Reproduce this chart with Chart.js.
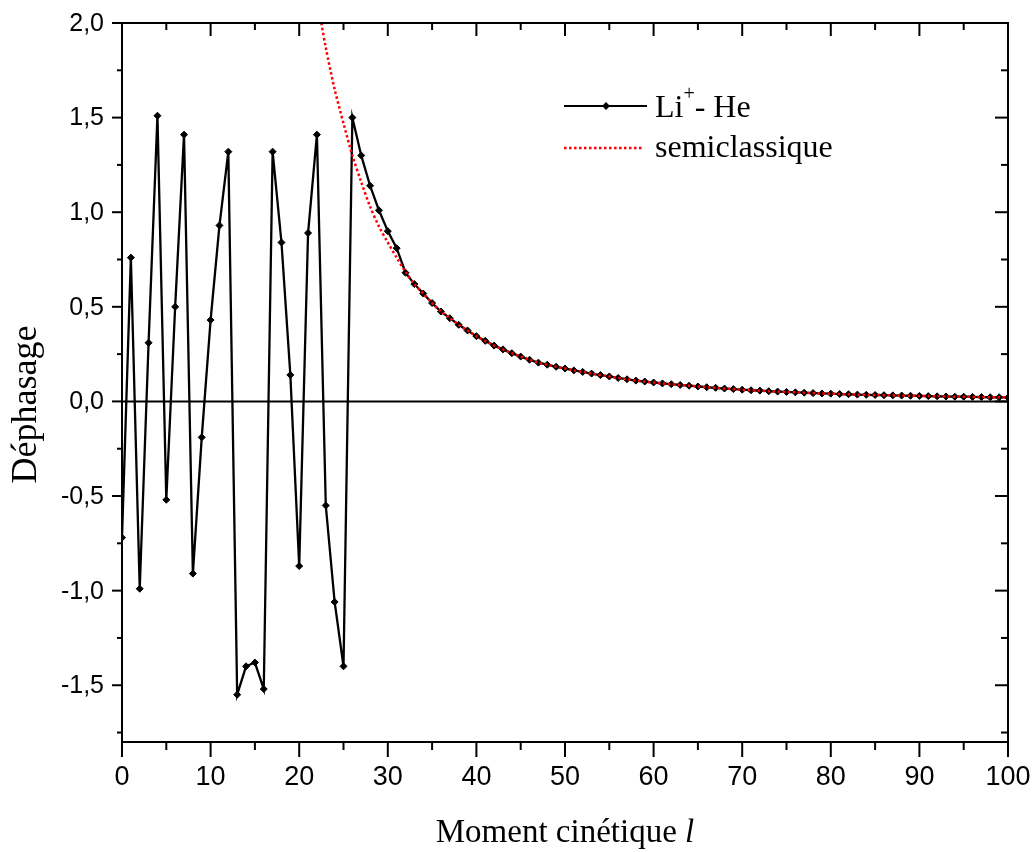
<!DOCTYPE html>
<html>
<head>
<meta charset="utf-8">
<script src="https://cdn.jsdelivr.net/npm/chart.js@4.4.1/dist/chart.umd.min.js"></script>
<style>
  html, body { margin: 0; background: #fff; }
  #wrap { width: 1032px; height: 852px; }
</style>
</head>
<body>
<div id="wrap"><canvas id="phaseChart"></canvas></div>
<script>
// Li+ - He phase shifts, l = 0..100
const phaseLiHe = [
  -0.72, 0.76, -0.99, 0.31, 1.51, -0.52, 0.50, 1.41, -0.91, -0.19,
  0.43, 0.93, 1.32, -1.55, -1.40, -1.38, -1.52, 1.32, 0.84, 0.14,
  -0.87, 0.89, 1.41, -0.55, -1.06, -1.40, 1.50, 1.30, 1.14, 1.01,
  0.90, 0.81, 0.68, 0.62, 0.57, 0.52, 0.475, 0.44, 0.405, 0.375,
  0.345, 0.32, 0.295, 0.275, 0.255, 0.237, 0.22, 0.205, 0.194, 0.183,
  0.174, 0.164, 0.156, 0.147, 0.139, 0.132, 0.124, 0.117, 0.110, 0.105,
  0.100, 0.095, 0.091, 0.087, 0.083, 0.079, 0.075, 0.072, 0.068, 0.065,
  0.062, 0.059, 0.057, 0.054, 0.052, 0.050, 0.048, 0.046, 0.044, 0.042,
  0.041, 0.039, 0.038, 0.036, 0.035, 0.034, 0.033, 0.032, 0.031, 0.030,
  0.029, 0.028, 0.027, 0.026, 0.025, 0.025, 0.024, 0.023, 0.022, 0.022,
  0.021
];
const momentL = phaseLiHe.map((_, i) => i);

// semiclassical curve (red dotted), starts where it leaves the top of the frame
const semiL = [22.5, 23, 24, 25, 26, 27, 28, 29, 30, 31, 32].concat(momentL.slice(33));
const semiVals = [
  2.00, 1.87, 1.65, 1.47, 1.30, 1.16, 1.03, 0.925, 0.84, 0.76, 0.685,
  0.62, 0.57, 0.52, 0.475, 0.44, 0.405, 0.375,
  0.345, 0.32, 0.295, 0.275, 0.255, 0.237, 0.22, 0.205, 0.194, 0.183,
  0.174, 0.164, 0.156, 0.147, 0.139, 0.132, 0.124, 0.117, 0.110, 0.105,
  0.100, 0.095, 0.091, 0.087, 0.083, 0.079, 0.075, 0.072, 0.068, 0.065,
  0.062, 0.059, 0.057, 0.054, 0.052, 0.050, 0.048, 0.046, 0.044, 0.042,
  0.041, 0.039, 0.038, 0.036, 0.035, 0.034, 0.033, 0.032, 0.031, 0.030,
  0.029, 0.028, 0.027, 0.026, 0.025, 0.025, 0.024, 0.023, 0.022, 0.022,
  0.021
];

// axis ticks
const xMajorTicks = [0, 10, 20, 30, 40, 50, 60, 70, 80, 90, 100];
const xMinorTicks = [5, 15, 25, 35, 45, 55, 65, 75, 85, 95];
const yMajorTicks = [-1.5, -1.0, -0.5, 0.0, 0.5, 1.0, 1.5, 2.0];
const yMinorTicks = [-1.75, -1.25, -0.75, -0.25, 0.25, 0.75, 1.25, 1.75];

const serif = '"Liberation Serif", "Times New Roman", serif';
const sans = '"Liberation Sans", Arial, sans-serif';

const frameDeco = {
  id: 'frameDeco',
  beforeDatasetsDraw(chart) {
    const { ctx, chartArea: a, scales: { y } } = chart;
    const y0 = y.getPixelForValue(0);
    ctx.save();
    ctx.strokeStyle = '#000'; ctx.lineWidth = 2;
    ctx.beginPath(); ctx.moveTo(a.left, y0); ctx.lineTo(a.right, y0); ctx.stroke();
    ctx.restore();
  },
  afterDraw(chart) {
    const { ctx, chartArea: a, scales: { x, y } } = chart;
    ctx.save();
    ctx.strokeStyle = '#000';
    ctx.lineWidth = 2;
    ctx.strokeRect(a.left, a.top, a.right - a.left, a.bottom - a.top);

    // ticks: left/bottom outward, top/right inward
    const tick = (x1, y1, x2, y2) => { ctx.beginPath(); ctx.moveTo(x1, y1); ctx.lineTo(x2, y2); ctx.stroke(); };
    yMajorTicks.forEach(v => { const p = y.getPixelForValue(v); tick(a.left - 10, p, a.left, p); tick(a.right - 13, p, a.right, p); });
    yMinorTicks.forEach(v => { const p = y.getPixelForValue(v); tick(a.left - 5, p, a.left, p); tick(a.right - 7, p, a.right, p); });
    xMajorTicks.forEach(v => { const p = x.getPixelForValue(v); tick(p, a.bottom, p, a.bottom + 15); tick(p, a.top, p, a.top + 13); });
    xMinorTicks.forEach(v => { const p = x.getPixelForValue(v); tick(p, a.bottom, p, a.bottom + 8); tick(p, a.top, p, a.top + 7); });

    // tick labels
    ctx.fillStyle = '#000';
    ctx.font = '25px ' + sans;
    ctx.textAlign = 'right';
    ctx.textBaseline = 'middle';
    yMajorTicks.forEach(v => ctx.fillText(v.toFixed(1).replace('.', ','), a.left - 18, y.getPixelForValue(v) + 1));
    ctx.font = '27px ' + sans;
    ctx.textAlign = 'center';
    ctx.textBaseline = 'top';
    xMajorTicks.forEach(v => ctx.fillText(String(v), x.getPixelForValue(v), a.bottom + 22));

    // axis titles
    ctx.textBaseline = 'alphabetic';
    ctx.font = '33px ' + serif;
    const part1 = 'Moment cinétique ';
    const w1 = ctx.measureText(part1).width;
    ctx.font = 'italic 33px ' + serif;
    const w2 = ctx.measureText('l').width;
    const cx = (a.left + a.right) / 2;
    const sx = cx - (w1 + w2) / 2;
    ctx.font = '33px ' + serif;
    ctx.textAlign = 'left';
    ctx.fillText(part1, sx, 842);
    ctx.font = 'italic 33px ' + serif;
    ctx.fillText('l', sx + w1, 842);

    ctx.save();
    ctx.translate(36, (a.top + a.bottom) / 2 + 22);
    ctx.rotate(-Math.PI / 2);
    ctx.textAlign = 'center';
    ctx.font = '36px ' + serif;
    ctx.fillText('Déphasage', 0, 0);
    ctx.restore();

    // legend
    ctx.lineWidth = 2;
    ctx.strokeStyle = '#000';
    tick(564, 106, 647, 106);
    ctx.beginPath();
    ctx.moveTo(606, 102); ctx.lineTo(610, 106); ctx.lineTo(606, 110); ctx.lineTo(602, 106); ctx.closePath(); ctx.fill();
    ctx.strokeStyle = '#ff0000';
    ctx.lineWidth = 2.5;
    ctx.setLineDash([2.5, 2.5]);
    tick(564, 148, 643, 148);
    ctx.setLineDash([]);

    ctx.textAlign = 'left';
    ctx.font = '32px ' + serif;
    ctx.fillText('Li', 655, 117);
    let lx = 655 + ctx.measureText('Li').width;
    ctx.font = '20px ' + serif;
    ctx.fillText('+', lx, 100);
    lx += ctx.measureText('+').width;
    ctx.font = '32px ' + serif;
    ctx.fillText('- He', lx, 117);
    ctx.fillText('semiclassique', 655, 157);
    ctx.restore();
  }
};

new Chart(document.getElementById('phaseChart'), {
  type: 'line',
  data: {
    datasets: [
      {
        label: 'Li+- He',
        data: momentL.map((l, i) => ({ x: l, y: phaseLiHe[i] })),
        borderColor: '#000',
        backgroundColor: '#000',
        borderWidth: 2.3,
        pointStyle: 'rectRot',
        pointRadius: 3.5,
        pointBorderWidth: 1,
        tension: 0,
        order: 1
      },
      {
        label: 'semiclassique',
        data: semiL.map((l, i) => ({ x: l, y: semiVals[i] })),
        borderColor: '#ff0000',
        borderWidth: 2.5,
        borderDash: [2.5, 2.5],
        pointRadius: 0,
        tension: 0.3,
        order: 0
      }
    ]
  },
  options: {
    responsive: true,
    maintainAspectRatio: false,
    animation: false,
    layout: { padding: { top: 23, right: 24, left: 0, bottom: 0 } },
    plugins: { legend: { display: false }, tooltip: { enabled: false } },
    scales: {
      x: {
        type: 'linear',
        min: 0, max: 100,
        afterFit: s => { s.height = 110; },
        grid: { display: false, drawTicks: false },
        border: { display: false },
        ticks: { display: false }
      },
      y: {
        type: 'linear',
        min: -1.8, max: 2.0,
        afterFit: s => { s.width = 122; },
        grid: { display: false, drawTicks: false },
        border: { display: false },
        ticks: { display: false }
      }
    }
  },
  plugins: [frameDeco]
});
</script>
</body>
</html>
